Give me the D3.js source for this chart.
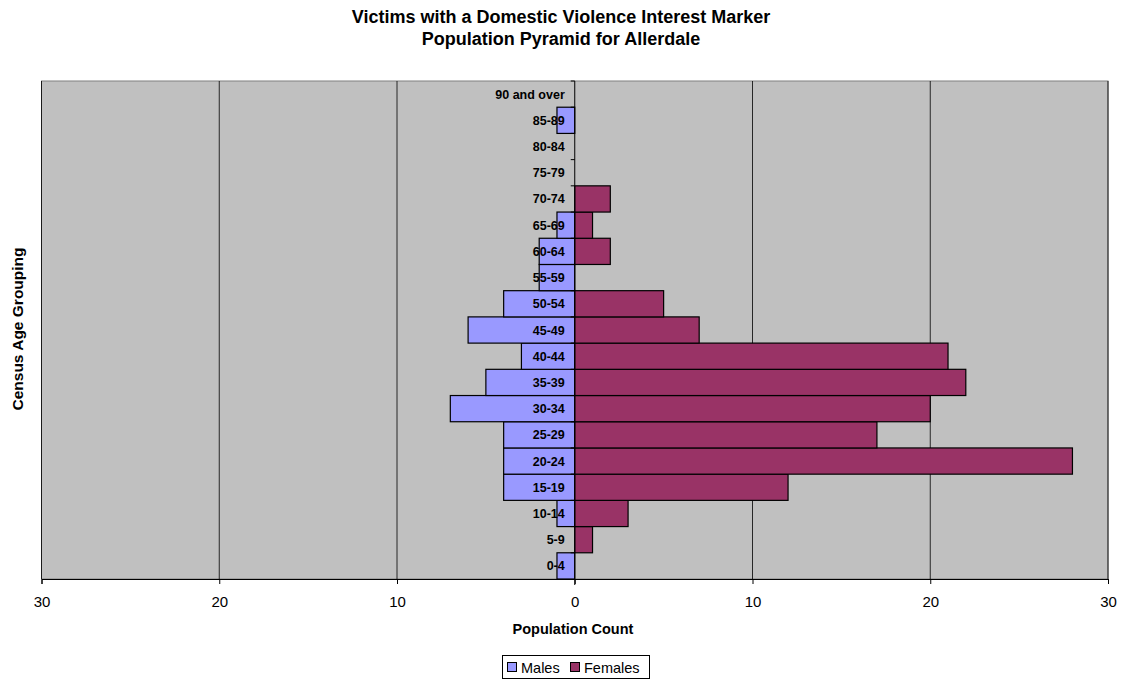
<!DOCTYPE html>
<html><head><meta charset="utf-8">
<script src="https://cdn.jsdelivr.net/npm/d3@7"></script>
<style>body{margin:0;background:#fff;font-family:Arial,"Liberation Sans",sans-serif}</style>
</head><body>
<svg id="c" width="1122" height="679"></svg>
<script>
const ageGroups = ["0-4","5-9","10-14","15-19","20-24","25-29","30-34","35-39","40-44","45-49","50-54","55-59","60-64","65-69","70-74","75-79","80-84","85-89","90 and over"];
const males =   [1,0,1,4,4,4,7,5,3,6,4,2,2,1,0,0,0,1,0];
const females = [0,1,3,12,28,17,20,22,21,7,5,0,2,1,2,0,0,0,0];
const xTicks = [-30,-20,-10,0,10,20,30];
const seriesNames = ["Males","Females"];
const colors = ["#9999FF","#993366"];

const FF = "Arial,'Liberation Sans',sans-serif";
const svg = d3.select("#c").attr("font-family",FF);
const L = 41.5, R = 1108, T = 81, B = 579;
const x = d3.scaleLinear().domain([-30,30]).range([L,R]);
const y = d3.scaleBand().domain(ageGroups.slice().reverse()).range([T,B]).padding(0);

svg.append("rect").attr("x",L).attr("y",T).attr("width",R-L).attr("height",B-T)
  .attr("fill","#C0C0C0").attr("stroke","#808080").attr("stroke-width",1);

// gridlines
svg.append("g").selectAll("line").data(xTicks.filter(d=>d!==0)).join("line")
  .attr("x1",d=>x(d)).attr("x2",d=>x(d)).attr("y1",T).attr("y2",B)
  .attr("stroke","#000").attr("stroke-width",0.8);

// bars
const rows = ageGroups.map((g,i)=>({g,m:males[i],f:females[i]}));
svg.append("g").selectAll("rect").data(rows.filter(d=>d.m>0)).join("rect")
  .attr("x",d=>x(-d.m)).attr("y",d=>y(d.g)).attr("width",d=>x(0)-x(-d.m)).attr("height",y.bandwidth())
  .attr("fill",colors[0]).attr("stroke","#000").attr("stroke-width",1.2);
svg.append("g").selectAll("rect").data(rows.filter(d=>d.f>0)).join("rect")
  .attr("x",x(0)).attr("y",d=>y(d.g)).attr("width",d=>x(d.f)-x(0)).attr("height",y.bandwidth())
  .attr("fill",colors[1]).attr("stroke","#000").attr("stroke-width",1.2);

// center axis
svg.append("line").attr("x1",x(0)).attr("x2",x(0)).attr("y1",T).attr("y2",B+6).attr("stroke","#000").attr("stroke-width",1);
svg.append("g").selectAll("line").data(ageGroups).join("line")
  .attr("x1",x(0)-4).attr("x2",x(0)).attr("y1",d=>y(d)).attr("y2",d=>y(d)).attr("stroke","#000");

// bottom axis
const xAxis = d3.axisBottom(x).tickValues(xTicks).tickFormat(d=>Math.abs(d)).tickSizeOuter(0).tickSize(5);
const gx = svg.append("g").attr("transform",`translate(0,${B})`).call(xAxis);
gx.select(".domain").attr("stroke","#000");
gx.selectAll(".tick line").attr("stroke","#000");
gx.selectAll("text").attr("font-size",15).attr("font-family",FF).attr("fill","#000").attr("y",28).attr("dy",0);

// category labels
svg.append("g").selectAll("text").data(ageGroups).join("text")
  .attr("x",x(0)-10).attr("y",d=>y(d)+y.bandwidth()/2).attr("dy","0.36em")
  .attr("text-anchor","end").attr("font-size",12.5).attr("font-weight","bold").text(d=>d);

// titles
svg.append("text").attr("x",561).attr("y",23).attr("text-anchor","middle").attr("font-size",18).attr("font-weight","bold").text("Victims with a Domestic Violence Interest Marker");
svg.append("text").attr("x",561).attr("y",45).attr("text-anchor","middle").attr("font-size",18).attr("font-weight","bold").text("Population Pyramid for Allerdale");
svg.append("text").attr("x",573).attr("y",634).attr("text-anchor","middle").attr("font-size",14.5).attr("font-weight","bold").text("Population Count");
svg.append("text").attr("transform","translate(23,329) rotate(-90)").attr("text-anchor","middle").attr("font-size",15.5).attr("font-weight","bold").text("Census Age Grouping");

// legend
const lg = svg.append("g");
lg.append("rect").attr("x",502.5).attr("y",655.5).attr("width",147).attr("height",23).attr("fill","#fff").attr("stroke","#000");
const items = [{n:seriesNames[0],c:colors[0],x:507},{n:seriesNames[1],c:colors[1],x:570}];
items.forEach(it=>{
  lg.append("rect").attr("x",it.x+0.5).attr("y",662.5).attr("width",9).attr("height",9).attr("fill",it.c).attr("stroke","#000");
  lg.append("text").attr("x",it.x+14).attr("y",673).attr("font-size",14.5).text(it.n);
});
</script>
</body></html>
